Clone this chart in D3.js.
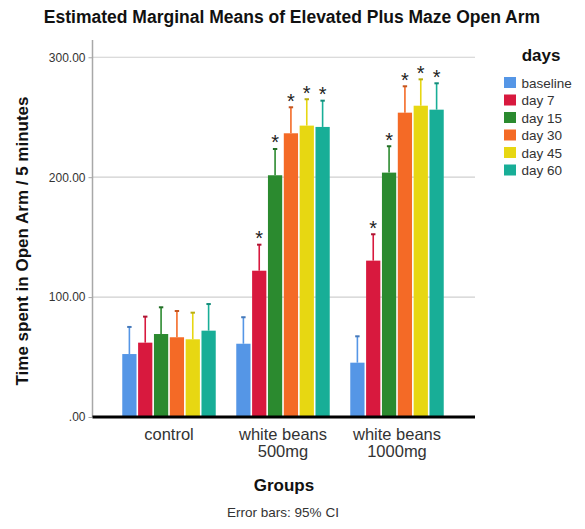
<!DOCTYPE html>
<html>
<head>
<meta charset="utf-8">
<script src="https://cdn.jsdelivr.net/npm/d3@7"></script>
<style>
  html, body { margin: 0; padding: 0; background: #fff; }
  svg { display: block; font-family: "Liberation Sans", Arial, sans-serif; }
</style>
</head>
<body>
<svg id="chart" width="585" height="529"></svg>
<script>
// Groups on the x axis (multi-line labels)
const groups = ["control", "white beans 500mg", "white beans 1000mg"];
const groupLabels = [["control"], ["white beans", "500mg"], ["white beans", "1000mg"]];
// Measurement days (series)
const days = ["baseline", "day 7", "day 15", "day 30", "day 45", "day 60"];
const dayColors = ["#5596e6", "#d8193e", "#2b8a2f", "#f46a26", "#e7d712", "#18ae97"];

// Estimated marginal means per group, one value per day
const meansControl = [52.5, 62.0, 69.2, 66.5, 64.8, 72.0];
const means500 = [61.1, 122.0, 201.6, 236.6, 243.0, 241.9];
const means1000 = [45.3, 130.4, 203.8, 253.8, 259.6, 256.3];
// Upper bound of the 95% confidence interval
const upperControl = [75.1, 83.7, 91.5, 88.4, 87.0, 94.2];
const upper500 = [83.2, 143.7, 223.5, 258.3, 265.0, 263.8];
const upper1000 = [67.3, 152.4, 225.8, 275.8, 281.6, 278.3];
// Significance flags (1 = starred)
const sigControl = [0, 0, 0, 0, 0, 0];
const sig500 = [0, 1, 1, 1, 1, 1];
const sig1000 = [0, 1, 1, 1, 1, 1];

const yTicks = [0, 100, 200, 300];
const yTickLabels = [".00", "100.00", "200.00", "300.00"];

const meansByGroup = [meansControl, means500, means1000];
const upperByGroup = [upperControl, upper500, upper1000];
const sigByGroup = [sigControl, sig500, sig1000];

const svg = d3.select("#chart");

const plot = { left: 92.5, right: 475, top: 40, bottom: 417 };

const y = d3.scaleLinear().domain([0, 314.4]).range([plot.bottom, plot.top]);
const x0 = d3.scaleBand().domain(groups).range([112, 454]).paddingInner(0.18).paddingOuter(0.09);
const x1 = d3.scaleBand().domain(days).range([0, x0.bandwidth()]).paddingInner(0.1);
const color = d3.scaleOrdinal().domain(days).range(dayColors);

// Title
svg.append("text")
  .attr("x", 292).attr("y", 23)
  .attr("text-anchor", "middle")
  .attr("font-size", 17.5).attr("font-weight", "bold").attr("fill", "#111")
  .text("Estimated Marginal Means of Elevated Plus Maze Open Arm");

// Gridlines
svg.append("g")
  .selectAll("line")
  .data(yTicks.filter(d => d > 0))
  .join("line")
  .attr("x1", plot.left).attr("x2", plot.right)
  .attr("y1", d => y(d)).attr("y2", d => y(d))
  .attr("stroke", "#cfcfcf").attr("stroke-width", 1.2);

// Y axis
const yAxis = d3.axisLeft(y)
  .tickValues(yTicks)
  .tickFormat((d, i) => yTickLabels[i])
  .tickSize(4).tickPadding(3);
const gy = svg.append("g").attr("transform", `translate(${plot.left},0)`).call(yAxis);
gy.select(".domain").attr("stroke", "#a8a8a8").attr("stroke-width", 1.5)
  .attr("d", `M0,${plot.top}V${plot.bottom}`);
gy.selectAll(".tick line").attr("stroke", "#a8a8a8");
gy.selectAll(".tick text").attr("font-size", 12).attr("fill", "#333")
  .attr("font-family", "Liberation Sans, Arial, sans-serif");

// Bars, error bars and stars
const barData = [];
groups.forEach((g, gi) => {
  days.forEach((dName, di) => {
    barData.push({
      group: g, day: dName,
      value: meansByGroup[gi][di],
      upper: upperByGroup[gi][di],
      sig: sigByGroup[gi][di]
    });
  });
});

const bars = svg.append("g");
bars.selectAll("rect")
  .data(barData)
  .join("rect")
  .attr("x", d => x0(d.group) + x1(d.day))
  .attr("y", d => y(d.value))
  .attr("width", x1.bandwidth())
  .attr("height", d => y(0) - y(d.value))
  .attr("fill", d => color(d.day));

const err = svg.append("g");
err.selectAll("line.stem")
  .data(barData)
  .join("line")
  .attr("class", "stem")
  .attr("x1", d => x0(d.group) + x1(d.day) + x1.bandwidth() / 2)
  .attr("x2", d => x0(d.group) + x1(d.day) + x1.bandwidth() / 2)
  .attr("y1", d => y(d.value))
  .attr("y2", d => y(d.upper))
  .attr("stroke", d => color(d.day)).attr("stroke-width", 1.6);
err.selectAll("line.cap")
  .data(barData)
  .join("line")
  .attr("class", "cap")
  .attr("x1", d => x0(d.group) + x1(d.day) + x1.bandwidth() / 2 - 2.2)
  .attr("x2", d => x0(d.group) + x1(d.day) + x1.bandwidth() / 2 + 2.2)
  .attr("y1", d => y(d.upper))
  .attr("y2", d => y(d.upper))
  .attr("stroke", d => d3.color(color(d.day)).darker(0.6)).attr("stroke-width", 2);

svg.append("g")
  .selectAll("text")
  .data(barData.filter(d => d.sig))
  .join("text")
  .attr("x", d => x0(d.group) + x1(d.day) + x1.bandwidth() / 2)
  .attr("y", d => y(d.upper) + 0.5)
  .attr("text-anchor", "middle")
  .attr("font-size", 20).attr("fill", "#222")
  .text("*");

// Baseline
svg.append("line")
  .attr("x1", plot.left).attr("x2", plot.right)
  .attr("y1", y(0)).attr("y2", y(0))
  .attr("stroke", "#000").attr("stroke-width", 3);

// X tick labels
const xl = svg.append("g");
groups.forEach((g, gi) => {
  const t = xl.append("text")
    .attr("x", x0(g) + x0.bandwidth() / 2)
    .attr("y", 440)
    .attr("text-anchor", "middle")
    .attr("font-size", 16.5).attr("fill", "#333");
  groupLabels[gi].forEach((line, li) => {
    t.append("tspan")
      .attr("x", x0(g) + x0.bandwidth() / 2)
      .attr("dy", li === 0 ? 0 : 17)
      .text(line);
  });
});

// Axis titles
svg.append("text")
  .attr("x", 284).attr("y", 491)
  .attr("text-anchor", "middle")
  .attr("font-size", 17).attr("font-weight", "bold").attr("fill", "#111")
  .text("Groups");

svg.append("text")
  .attr("transform", "translate(28,241) rotate(-90)")
  .attr("text-anchor", "middle")
  .attr("font-size", 17).attr("font-weight", "bold").attr("fill", "#111")
  .text("Time spent in Open Arm / 5 minutes");

svg.append("text")
  .attr("x", 283).attr("y", 517)
  .attr("text-anchor", "middle")
  .attr("font-size", 13.5).attr("fill", "#333")
  .text("Error bars: 95% CI");

// Legend
const legend = svg.append("g");
legend.append("text")
  .attr("x", 541).attr("y", 61)
  .attr("text-anchor", "middle")
  .attr("font-size", 17).attr("font-weight", "bold").attr("fill", "#111")
  .text("days");
const items = legend.selectAll("g.item")
  .data(days)
  .join("g")
  .attr("class", "item")
  .attr("transform", (d, i) => `translate(504,${77 + i * 17.5})`);
items.append("rect")
  .attr("width", 12).attr("height", 11)
  .attr("fill", d => color(d));
items.append("text")
  .attr("x", 17.5).attr("y", 10.5)
  .attr("font-size", 13.5).attr("fill", "#333")
  .text(d => d);
</script>
</body>
</html>
